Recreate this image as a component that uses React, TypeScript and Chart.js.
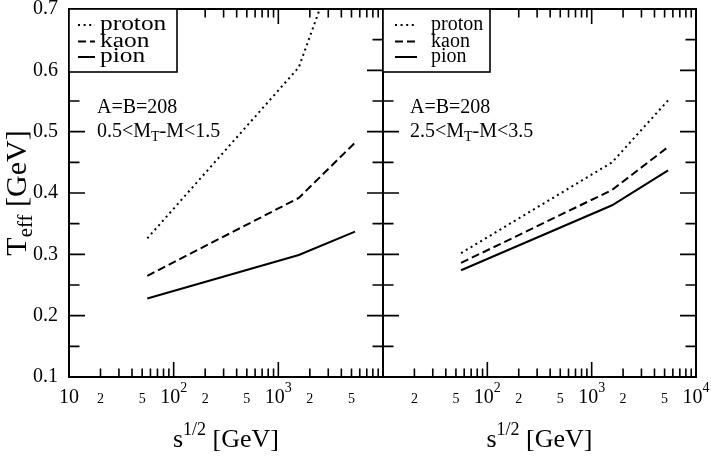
import React, { useEffect, useRef } from "react";
import { Chart, registerables } from "chart.js";

Chart.register(...registerables);

// ---- data ----
const energies = [56, 1570, 5400]; // sqrt(s) [GeV]
const seriesNames = ["proton", "kaon", "pion"];

const leftProton = [0.326, 0.605, 0.86];
const leftKaon = [0.265, 0.392, 0.482];
const leftPion = [0.228, 0.299, 0.337];

const rightProton = [0.302, 0.45, 0.551];
const rightKaon = [0.286, 0.405, 0.475];
const rightPion = [0.274, 0.38, 0.437];

const yTickValues = [0.1, 0.2, 0.3, 0.4, 0.5, 0.6, 0.7];
const yMinorValues = [0.15, 0.25, 0.35, 0.45, 0.55, 0.65];
const xMajorValues = [10, 100, 1000, 10000];
const xMinorValues = [
  20, 30, 40, 50, 60, 70, 80, 90,
  200, 300, 400, 500, 600, 700, 800, 900,
  2000, 3000, 4000, 5000, 6000, 7000, 8000, 9000,
];
const leftXLabels = [10, 20, 50, 100, 200, 500, 1000, 2000, 5000];
const rightXLabels = [20, 50, 100, 200, 500, 1000, 2000, 5000, 10000];

const leftNote = ["A=B=208", "0.5<M", "T", "-M<1.5"];
const rightNote = ["A=B=208", "2.5<M", "T", "-M<3.5"];

const FONT = "'Liberation Serif', 'Times New Roman', Times, serif";
const W = 711;
const H = 463;

type Piece = { t: string; size: number; dy?: number };

function richWidth(ctx: CanvasRenderingContext2D, pieces: Piece[]) {
  let w = 0;
  for (const p of pieces) {
    ctx.font = `${p.size}px ${FONT}`;
    w += ctx.measureText(p.t).width;
  }
  return w;
}

function drawRich(ctx: CanvasRenderingContext2D, pieces: Piece[], x: number, y: number) {
  let cx = x;
  ctx.textBaseline = "alphabetic";
  ctx.textAlign = "left";
  for (const p of pieces) {
    ctx.font = `${p.size}px ${FONT}`;
    ctx.fillText(p.t, cx, y + (p.dy || 0));
    cx += ctx.measureText(p.t).width;
  }
}

function makeOverlay(side: "left" | "right") {
  return {
    id: "overlay-" + side,
    afterDatasetsDraw(chart: any) {
      const ctx: CanvasRenderingContext2D = chart.ctx;
      const { left, right, top, bottom } = chart.chartArea;
      const xs = chart.scales.x;
      const ys = chart.scales.y;
      ctx.save();
      ctx.strokeStyle = "#000";
      ctx.fillStyle = "#000";
      ctx.setLineDash([]);

      // inward tick marks
      ctx.lineWidth = 1.6;
      ctx.beginPath();
      for (const v of xMajorValues) {
        const px = xs.getPixelForValue(v);
        ctx.moveTo(px, bottom);
        ctx.lineTo(px, bottom - 15);
        ctx.moveTo(px, top);
        ctx.lineTo(px, top + 15);
      }
      for (const v of xMinorValues) {
        const px = xs.getPixelForValue(v);
        ctx.moveTo(px, bottom);
        ctx.lineTo(px, bottom - 8.5);
        ctx.moveTo(px, top);
        ctx.lineTo(px, top + 8.5);
      }
      for (const v of yTickValues) {
        const py = ys.getPixelForValue(v);
        ctx.moveTo(left, py);
        ctx.lineTo(left + 16, py);
        ctx.moveTo(right, py);
        ctx.lineTo(right - 16, py);
      }
      for (const v of yMinorValues) {
        const py = ys.getPixelForValue(v);
        ctx.moveTo(left, py);
        ctx.lineTo(left + 10.5, py);
        ctx.moveTo(right, py);
        ctx.lineTo(right - 10.5, py);
      }
      ctx.stroke();

      // frame
      ctx.lineWidth = 2;
      ctx.strokeRect(left, top, right - left, bottom - top);

      // x tick labels
      const labels = side === "left" ? leftXLabels : rightXLabels;
      const base = bottom + 26;
      for (const v of labels) {
        const px = xs.getPixelForValue(v);
        const exp = Math.round(Math.log10(v));
        let pieces: Piece[];
        if (Math.abs(v - Math.pow(10, exp)) < 1e-9) {
          pieces = exp === 1 ? [{ t: "10", size: 20 }] : [{ t: "10", size: 20 }, { t: String(exp), size: 14, dy: -11 }];
        } else {
          pieces = [{ t: String(Math.round(v / Math.pow(10, Math.floor(Math.log10(v))))), size: 14 }];
        }
        const w = richWidth(ctx, pieces);
        drawRich(ctx, pieces, px - w / 2, base);
      }

      // x axis title
      const xt: Piece[] = [
        { t: "s", size: 26 },
        { t: "1/2", size: 18, dy: -12 },
        { t: " [GeV]", size: 26 },
      ];
      const xtw = richWidth(ctx, xt);
      drawRich(ctx, xt, (left + right) / 2 - xtw / 2, 447);

      // legend box
      const boxW = side === "left" ? 108 : 107;
      ctx.fillStyle = "#fff";
      ctx.fillRect(left, top, boxW, 63);
      ctx.fillStyle = "#000";
      ctx.lineWidth = 1.6;
      ctx.strokeRect(left, top, boxW, 63);
      const rowY = [25, 41.5, 57];
      const sample = side === "left" ? [left + 9, left + 26] : [left + 12, left + 34];
      const textX = side === "left" ? left + 31 : left + 48;
      const dsets = chart.data.datasets;
      for (let i = 0; i < seriesNames.length; i++) {
        const ds = dsets[i];
        ctx.save();
        ctx.lineWidth = ds.borderWidth;
        ctx.setLineDash(ds.borderDash || []);
        ctx.beginPath();
        ctx.moveTo(sample[0], rowY[i]);
        ctx.lineTo(sample[1], rowY[i]);
        ctx.stroke();
        ctx.restore();
        ctx.save();
        ctx.font = `20px ${FONT}`;
        ctx.textBaseline = "alphabetic";
        ctx.textAlign = "left";
        if (side === "left") {
          ctx.translate(textX, rowY[i] + 5);
          ctx.scale(1.27, 1);
          ctx.fillText(seriesNames[i], 0, 0);
        } else {
          ctx.fillText(seriesNames[i], textX, rowY[i] + 5);
        }
        ctx.restore();
      }

      // annotation
      const note = side === "left" ? leftNote : rightNote;
      const nx = side === "left" ? left + 28 : left + 27;
      drawRich(ctx, [{ t: note[0], size: 20 }], nx, 113);
      drawRich(
        ctx,
        [
          { t: note[1], size: 20 },
          { t: note[2], size: 14, dy: 4 },
          { t: note[3], size: 20 },
        ],
        nx,
        137
      );

      // y axis title (left only)
      if (side === "left") {
        const yt: Piece[] = [
          { t: "T", size: 30 },
          { t: "eff", size: 21, dy: 6 },
          { t: " [GeV]", size: 30 },
        ];
        ctx.save();
        ctx.translate(26, (top + bottom) / 2 + 0);
        ctx.rotate(-Math.PI / 2);
        const ytw = richWidth(ctx, yt);
        drawRich(ctx, yt, -ytw / 2, 0);
        ctx.restore();
      }

      ctx.restore();
    },
  };
}

function makeConfig(side: "left" | "right"): any {
  const p = side === "left" ? leftProton : rightProton;
  const k = side === "left" ? leftKaon : rightKaon;
  const pi = side === "left" ? leftPion : rightPion;
  const toPts = (arr: number[]) => energies.map((e, i) => ({ x: e, y: arr[i] }));
  const common = { borderColor: "#000", pointRadius: 0, fill: false, tension: 0 };
  return {
    type: "line",
    data: {
      datasets: [
        { label: seriesNames[0], data: toPts(p), borderWidth: 2, borderDash: [2, 3.6], ...common },
        { label: seriesNames[1], data: toPts(k), borderWidth: 2, borderDash: [8, 4], ...common },
        { label: seriesNames[2], data: toPts(pi), borderWidth: 2, borderDash: [], ...common },
      ],
    },
    options: {
      responsive: false,
      animation: false,
      events: [],
      layout: {
        padding:
          side === "left"
            ? { left: 0, right: W - 383, top: 9, bottom: H - 377 }
            : { left: 383, right: W - 696, top: 9, bottom: H - 377 },
      },
      plugins: { legend: { display: false }, tooltip: { enabled: false } },
      scales: {
        x: { type: "logarithmic", min: 10, max: 10000, display: false },
        y: {
          type: "linear",
          min: 0.1,
          max: 0.7,
          display: side === "left",
          grid: { display: false, drawTicks: false },
          border: { display: false },
          ticks: {
            padding: 11,
            color: "#000",
            font: { family: FONT, size: 20 },
            callback: (v: any) => Number(v).toFixed(1),
          },
          afterBuildTicks: (s: any) => {
            s.ticks = yTickValues.map((v) => ({ value: v }));
          },
          afterFit: (s: any) => {
            s.width = side === "left" ? 69 : 0;
            s.paddingTop = 0;
            s.paddingBottom = 0;
          },
        },
      },
    },
    plugins: [makeOverlay(side)],
  };
}

export default function App() {
  const leftRef = useRef<HTMLCanvasElement>(null);
  const rightRef = useRef<HTMLCanvasElement>(null);
  useEffect(() => {
    const c1 = new Chart(leftRef.current as HTMLCanvasElement, makeConfig("left"));
    const c2 = new Chart(rightRef.current as HTMLCanvasElement, makeConfig("right"));
    return () => {
      c1.destroy();
      c2.destroy();
    };
  }, []);
  return (
    <div style={{ position: "fixed", left: 0, top: 0, width: W, height: H, background: "#fff" }}>
      <canvas ref={leftRef} width={W} height={H} style={{ position: "absolute", left: 0, top: 0 }} />
      <canvas ref={rightRef} width={W} height={H} style={{ position: "absolute", left: 0, top: 0 }} />
    </div>
  );
}
